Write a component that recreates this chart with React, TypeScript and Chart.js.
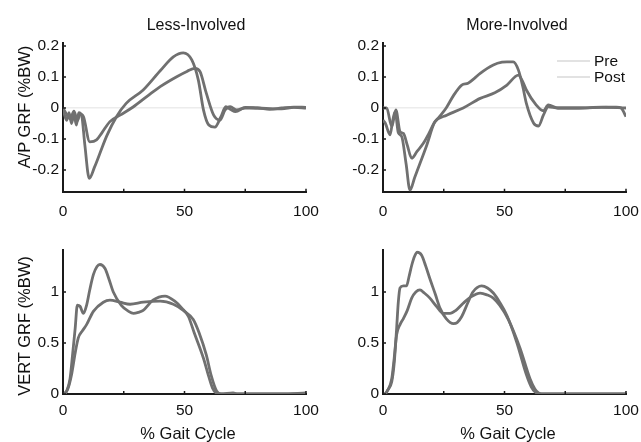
import React, { useEffect, useRef } from 'react';
import { Chart, registerables } from 'chart.js';

Chart.register(...registerables);

// ---------- DATA ----------
const xTicks = [0, 25, 50, 75, 100];
const xTickLabels = ['0', '', '50', '', '100'];

const apTicks = [-0.2, -0.1, 0, 0.1, 0.2];
const apTickLabels = ['-0.2', '-0.1', '0', '0.1', '0.2'];
const vertTicks = [0, 0.5, 1];
const vertTickLabels = ['0', '0.5', '1'];

const panelTitles = ['Less-Involved', 'More-Involved'];
const yTitles = ['A/P GRF (%BW)', 'VERT GRF (%BW)'];
const xTitle = '% Gait Cycle';
const legendLabels = ['Pre', 'Post'];

// A/P GRF, less-involved
const apLessPreX = [0, 1.5, 2.5, 3.5, 4.5, 5.5, 6.5, 7.7, 9, 10.8, 13, 15.2, 18, 22, 26, 33, 40, 45.4, 49.5, 53, 55.7, 57.8, 60, 62.5, 65, 67, 69, 71, 75, 80, 85, 90, 95, 100];
const apLessPreY = [-0.005, -0.04, -0.015, -0.05, -0.02, -0.055, -0.015, -0.025, -0.12, -0.227, -0.19, -0.146, -0.09, -0.028, 0.015, 0.058, 0.12, 0.165, 0.178, 0.155, 0.09, -0.006, -0.055, -0.062, -0.028, 0.004, -0.005, -0.012, 0.002, 0, -0.002, -0.003, 0.002, 0];
const apLessPostX = [0, 1.5, 3, 4.5, 6, 7, 8.4, 11, 13.8, 16, 19.3, 23.5, 29, 35, 40, 46.8, 51, 54.3, 56.4, 59, 62, 64.6, 66.7, 68.8, 71.5, 75, 80, 85, 90, 95, 100];
const apLessPostY = [0, -0.02, -0.035, -0.01, -0.04, -0.02, -0.028, -0.109, -0.103, -0.08, -0.044, -0.023, 0.004, 0.04, 0.069, 0.101, 0.118, 0.128, 0.117, 0.047, -0.023, -0.039, -0.006, 0.004, -0.006, 0, 0, -0.004, 0, 0.003, 0.002];

// A/P GRF, more-involved
const apMorePreX = [0, 1, 2.9, 4, 5, 6.3, 7.7, 9.5, 11.1, 13, 15.2, 18, 21, 23, 26, 29, 32.4, 35, 37.5, 40, 45.4, 49, 51, 53.6, 55.7, 57.5, 59, 62, 64, 66, 68, 72, 80, 90, 96, 98, 100];
const apMorePreY = [-0.039, -0.05, -0.087, -0.04, -0.012, -0.08, -0.092, -0.18, -0.265, -0.225, -0.179, -0.12, -0.05, -0.03, 0, 0.04, 0.074, 0.08, 0.095, 0.112, 0.139, 0.148, 0.149, 0.149, 0.123, 0.07, 0.015, -0.049, -0.058, -0.023, 0.004, 0, 0, 0.002, 0.003, 0, -0.028];
const apMorePostX = [0, 1.5, 3.6, 5.3, 7, 8.4, 10, 11.8, 14, 16.6, 19, 21.4, 26.2, 33, 40, 46, 51, 55.7, 57.5, 59, 63, 66, 68, 72, 80, 90, 100];
const apMorePostY = [0, 0, -0.06, -0.006, -0.076, -0.082, -0.12, -0.162, -0.14, -0.114, -0.08, -0.044, -0.023, 0, 0.031, 0.049, 0.074, 0.106, 0.085, 0.058, 0.01, -0.009, 0.01, 0, 0, 0.003, 0];

// VERT GRF, less-involved
const vertLessPreX = [0, 1.5, 2.9, 4, 5, 5.9, 7, 8.4, 9.7, 11, 12.5, 14, 15.2, 17.3, 19, 20.7, 24, 27, 29, 31, 33, 37, 42, 46, 49, 51.6, 54, 57.8, 60, 61.5, 63, 65, 70, 72, 80, 90, 100];
const vertLessPreY = [0, 0.03, 0.15, 0.4, 0.64, 0.87, 0.86, 0.79, 0.87, 1.02, 1.17, 1.25, 1.27, 1.23, 1.12, 1.0, 0.87, 0.81, 0.79, 0.8, 0.82, 0.92, 0.96, 0.91, 0.84, 0.76, 0.6, 0.35, 0.17, 0.06, 0.01, 0, 0.01, 0, 0, 0, 0.01];
const vertLessPostX = [0.8, 2, 3.6, 5, 6.3, 8, 9.7, 12.5, 16.6, 19.3, 23.5, 27.6, 33, 40, 45.4, 49.5, 53.6, 56, 59, 61, 63.2, 65, 70, 100];
const vertLessPostY = [0, 0.05, 0.2, 0.4, 0.55, 0.62, 0.68, 0.81, 0.9, 0.92, 0.9, 0.88, 0.9, 0.91, 0.88, 0.82, 0.73, 0.6, 0.38, 0.18, 0.03, 0, 0, 0];

// VERT GRF, more-involved
const vertMorePreX = [0, 0.8, 2, 3.6, 4.6, 5.6, 6.3, 7, 8.4, 9.7, 10.7, 11.8, 13, 14.1, 15.9, 17.5, 19.3, 21.5, 23.5, 26, 29, 30.5, 32.4, 35, 37, 40.6, 43, 45.4, 48, 51, 55, 59, 61, 62.6, 64.6, 100];
const vertMorePreY = [0, 0, 0.04, 0.12, 0.3, 0.64, 0.9, 1.04, 1.06, 1.06, 1.15, 1.26, 1.35, 1.39, 1.36, 1.26, 1.13, 0.98, 0.84, 0.74, 0.69, 0.7, 0.76, 0.9, 1.0, 1.06, 1.04, 0.99, 0.9, 0.77, 0.51, 0.19, 0.07, 0.02, 0, 0];
const vertMorePostX = [0.8, 2, 3.6, 4.6, 5.6, 7, 8.4, 10, 11.8, 13.5, 15.2, 17, 19.3, 22, 24.8, 27.6, 30, 33, 36, 40, 43, 45.4, 48, 51.6, 56.4, 60.5, 62.5, 64, 65.3, 100];
const vertMorePostY = [0, 0.04, 0.15, 0.35, 0.58, 0.68, 0.74, 0.82, 0.94, 1.0, 1.02, 0.99, 0.94, 0.86, 0.79, 0.79, 0.82, 0.89, 0.95, 0.99, 0.97, 0.94, 0.87, 0.73, 0.45, 0.15, 0.05, 0.01, 0, 0];

// ---------- STYLE ----------
const FONT = '"Liberation Sans", Arial, Helvetica, sans-serif';
const LINE_COLOR = 'rgb(112,112,112)';
const AXIS_COLOR = '#1a1a1a';

const toPts = (xs: number[], ys: number[]) => xs.map((x, i) => ({ x, y: ys[i] }));

type Box = { x: number; y: number; w: number; h: number };
type Area = { l: number; t: number; r: number; b: number };

interface PanelProps {
  box: Box;
  area: Area;
  pre: { x: number; y: number }[];
  post: { x: number; y: number }[];
  yMin: number;
  yMax: number;
  yTicks: number[];
  yLabels: string[];
  zeroLine: boolean;
  legend: boolean;
  xPad: number;
}

function Panel(p: PanelProps) {
  const ref = useRef<HTMLCanvasElement | null>(null);
  useEffect(() => {
    if (!ref.current) return;
    const { box, area } = p;
    const tickPlugin = {
      id: 'inwardTicks',
      afterDraw(chart: any) {
        const ctx = chart.ctx;
        const xs = chart.scales.x;
        const ys = chart.scales.y;
        const ca = chart.chartArea;
        ctx.save();
        ctx.strokeStyle = AXIS_COLOR;
        ctx.lineWidth = 1.5;
        ctx.beginPath();
        xTicks.forEach((v) => {
          const px = xs.getPixelForValue(v);
          ctx.moveTo(px, ca.bottom);
          ctx.lineTo(px, ca.bottom - 3);
        });
        p.yTicks.forEach((v) => {
          const py = ys.getPixelForValue(v);
          ctx.moveTo(ca.left, py);
          ctx.lineTo(ca.left + 3, py);
        });
        ctx.stroke();
        if (p.legend) {
          const ox = box.x;
          const oy = box.y;
          ctx.strokeStyle = '#d9d9d9';
          ctx.lineWidth = 1.6;
          ctx.font = '15.5px ' + FONT;
          ctx.fillStyle = '#111';
          ctx.textBaseline = 'middle';
          ctx.textAlign = 'left';
          legendLabels.forEach((lab, i) => {
            const yy = 61 + i * 16 - oy;
            ctx.beginPath();
            ctx.moveTo(557 - ox, yy);
            ctx.lineTo(590 - ox, yy);
            ctx.stroke();
            ctx.fillText(lab, 594 - ox, yy + 1);
          });
        }
        ctx.restore();
      },
    };
    const chart = new Chart(ref.current, {
      type: 'line',
      data: {
        datasets: [
          { label: legendLabels[0], data: p.pre, borderColor: LINE_COLOR, borderWidth: 2.8, pointRadius: 0, cubicInterpolationMode: 'monotone', fill: false },
          { label: legendLabels[1], data: p.post, borderColor: LINE_COLOR, borderWidth: 2.8, pointRadius: 0, cubicInterpolationMode: 'monotone', fill: false },
        ],
      },
      options: {
        animation: false,
        responsive: false,
        maintainAspectRatio: false,
        layout: {
          padding: { left: 0, top: area.t - box.y, right: box.x + box.w - area.r, bottom: 0 },
        },
        plugins: { legend: { display: false }, tooltip: { enabled: false }, title: { display: false } },
        scales: {
          x: {
            type: 'linear',
            min: 0,
            max: 100,
            afterFit: (s: any) => {
              s.height = box.y + box.h - area.b;
              s.paddingLeft = 0;
              s.paddingRight = 0;
              s.paddingTop = 0;
              s.paddingBottom = 0;
            },
            afterBuildTicks: (s: any) => { s.ticks = xTicks.map((v) => ({ value: v })); },
            grid: { display: false, drawTicks: false },
            border: { display: true, color: AXIS_COLOR, width: 2 },
            ticks: {
              padding: p.xPad,
              color: '#111',
              font: { size: 15.5, family: FONT },
              maxRotation: 0,
              autoSkip: false,
              callback: (v: any) => { const i = xTicks.indexOf(Number(v)); return i >= 0 ? xTickLabels[i] : ''; },
            },
          },
          y: {
            type: 'linear',
            min: p.yMin,
            max: p.yMax,
            afterFit: (s: any) => {
              s.width = area.l - box.x;
              s.paddingLeft = 0;
              s.paddingRight = 0;
              s.paddingTop = 0;
              s.paddingBottom = 0;
            },
            afterBuildTicks: (s: any) => { s.ticks = p.yTicks.map((v) => ({ value: v })); },
            grid: {
              display: p.zeroLine,
              drawTicks: false,
              lineWidth: 1.5,
              color: (c: any) => (c.tick && c.tick.value === 0 ? '#ececec' : 'rgba(0,0,0,0)'),
            },
            border: { display: true, color: AXIS_COLOR, width: 2 },
            ticks: {
              padding: 4,
              color: '#111',
              font: { size: 15.5, family: FONT },
              autoSkip: false,
              callback: (v: any) => { const i = p.yTicks.indexOf(Number(v)); return i >= 0 ? p.yLabels[i] : ''; },
            },
          },
        },
      },
      plugins: [tickPlugin],
    } as any);
    return () => chart.destroy();
  }, []);
  return (
    <canvas
      ref={ref}
      width={p.box.w}
      height={p.box.h}
      style={{ position: 'absolute', left: p.box.x, top: p.box.y, width: p.box.w, height: p.box.h }}
    />
  );
}

function Label(props: { text: string; cx: number; cy: number; size: number; rotate?: boolean }) {
  return (
    <div
      style={{
        position: 'absolute',
        left: props.cx,
        top: props.cy,
        transform: `translate(-50%, -50%)${props.rotate ? ' rotate(-90deg)' : ''}`,
        whiteSpace: 'nowrap',
        fontFamily: FONT,
        fontSize: props.size,
        lineHeight: 1,
        color: '#111',
      }}
    >
      {props.text}
    </div>
  );
}

export default function App() {
  const topAreaL: Area = { l: 63, t: 42.9, r: 306, b: 191.7 };
  const topAreaR: Area = { l: 383, t: 42.9, r: 626, b: 191.7 };
  const botAreaL: Area = { l: 63, t: 250.2, r: 306, b: 394 };
  const botAreaR: Area = { l: 383, t: 250.2, r: 626, b: 394 };
  return (
    <div style={{ position: 'absolute', left: 0, top: 0, width: 641, height: 442, background: '#fff', overflow: 'hidden' }}>
      <Panel box={{ x: 0, y: 30, w: 320, h: 195 }} area={topAreaL} pre={toPts(apLessPreX, apLessPreY)} post={toPts(apLessPostX, apLessPostY)}
        yMin={-0.27} yMax={0.21} yTicks={apTicks} yLabels={apTickLabels} zeroLine={true} legend={false} xPad={11} />
      <Panel box={{ x: 320, y: 30, w: 321, h: 195 }} area={topAreaR} pre={toPts(apMorePreX, apMorePreY)} post={toPts(apMorePostX, apMorePostY)}
        yMin={-0.27} yMax={0.21} yTicks={apTicks} yLabels={apTickLabels} zeroLine={true} legend={true} xPad={11} />
      <Panel box={{ x: 0, y: 240, w: 320, h: 185 }} area={botAreaL} pre={toPts(vertLessPreX, vertLessPreY)} post={toPts(vertLessPostX, vertLessPostY)}
        yMin={0} yMax={1.41} yTicks={vertTicks} yLabels={vertTickLabels} zeroLine={false} legend={false} xPad={7} />
      <Panel box={{ x: 320, y: 240, w: 321, h: 185 }} area={botAreaR} pre={toPts(vertMorePreX, vertMorePreY)} post={toPts(vertMorePostX, vertMorePostY)}
        yMin={0} yMax={1.41} yTicks={vertTicks} yLabels={vertTickLabels} zeroLine={false} legend={false} xPad={7} />
      <Label text={panelTitles[0]} cx={196} cy={25} size={16} />
      <Label text={panelTitles[1]} cx={517} cy={25} size={16} />
      <Label text={yTitles[0]} cx={24} cy={107} size={16.5} rotate />
      <Label text={yTitles[1]} cx={24} cy={326} size={16.5} rotate />
      <Label text={xTitle} cx={188} cy={433} size={16.5} />
      <Label text={xTitle} cx={508} cy={433} size={16.5} />
    </div>
  );
}
